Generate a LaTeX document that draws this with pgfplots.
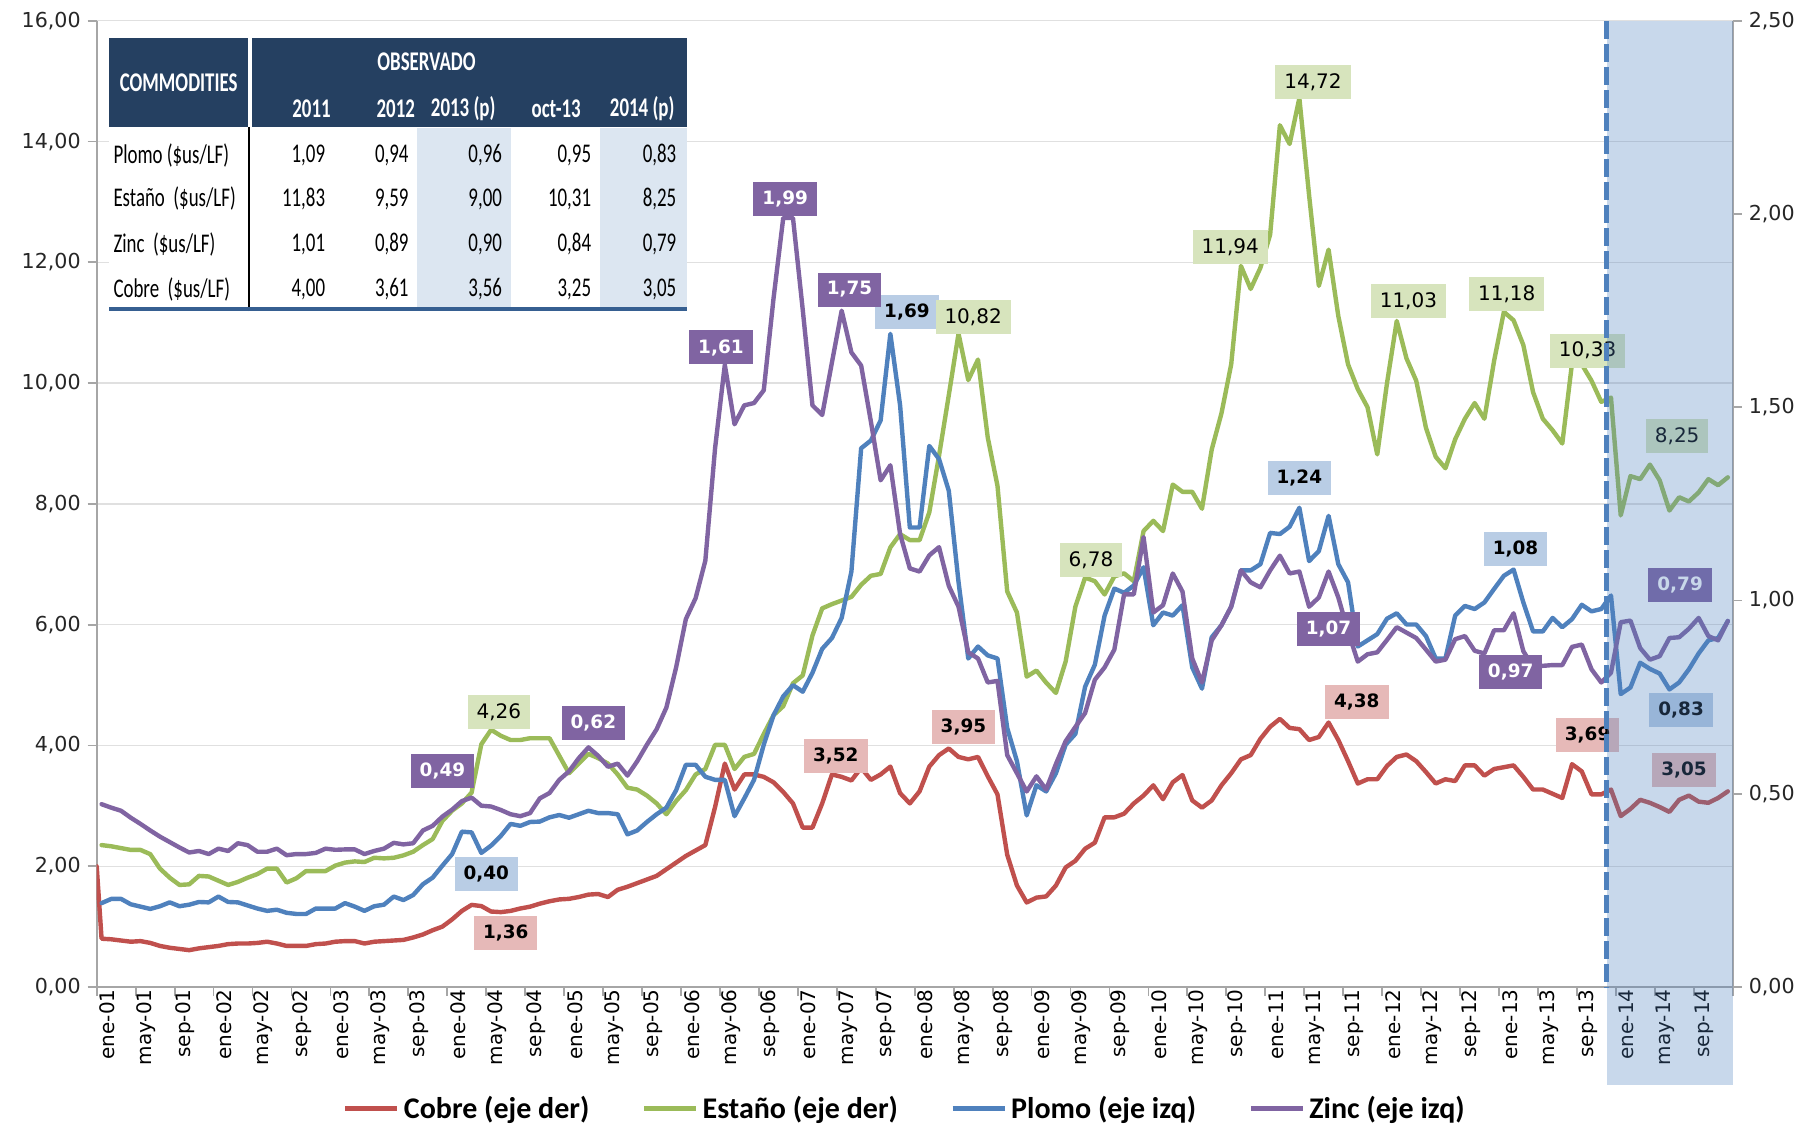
\documentclass[border=0pt]{standalone}
\usepackage{fontspec}
\setmainfont{DejaVu Sans}
\newfontfamily\carlito{Carlito}
\usepackage{graphicx}
\usepackage{pgfplots}
\usepackage{pgfplotstable}
\pgfplotsset{compat=1.18}

\definecolor{cobre}{RGB}{192,80,77}
\definecolor{estano}{RGB}{155,187,89}
\definecolor{plomo}{RGB}{79,129,189}
\definecolor{zinc}{RGB}{128,100,162}
\definecolor{labR}{RGB}{230,185,184}
\definecolor{labG}{RGB}{215,228,189}
\definecolor{labB}{RGB}{185,205,229}
\definecolor{axgray}{RGB}{166,166,166}
\definecolor{gridgray}{RGB}{224,224,224}
\definecolor{hdr}{RGB}{37,64,97}
\definecolor{colsh}{RGB}{220,230,241}
\definecolor{tblline}{RGB}{54,95,145}
\definecolor{projblue}{RGB}{79,129,189}

\pgfplotstableread{
m cobre estano plomo zinc
-0.5 2.00 nan nan nan
0 0.80 2.35 0.217 0.473
1 0.79 2.33 0.228 0.464
2 0.77 2.30 0.228 0.456
3 0.75 2.27 0.214 0.438
4 0.76 2.27 0.208 0.422
5 0.73 2.20 0.202 0.405
6 0.68 1.96 0.209 0.389
7 0.65 1.81 0.219 0.375
8 0.63 1.69 0.209 0.361
9 0.61 1.70 0.213 0.348
10 0.64 1.84 0.220 0.352
11 0.66 1.83 0.219 0.344
12 0.68 1.76 0.234 0.358
13 0.71 1.69 0.220 0.352
14 0.72 1.74 0.219 0.372
15 0.72 1.81 0.211 0.367
16 0.73 1.87 0.203 0.350
17 0.75 1.96 0.197 0.350
18 0.72 1.96 0.200 0.358
19 0.68 1.73 0.192 0.341
20 0.68 1.80 0.189 0.344
21 0.68 1.92 0.189 0.344
22 0.71 1.92 0.203 0.347
23 0.72 1.92 0.203 0.358
24 0.75 2.01 0.203 0.355
25 0.76 2.06 0.217 0.356
26 0.76 2.08 0.208 0.356
27 0.72 2.07 0.197 0.344
28 0.75 2.14 0.209 0.352
29 0.76 2.13 0.213 0.358
30 0.77 2.14 0.234 0.373
31 0.78 2.18 0.225 0.369
32 0.82 2.24 0.238 0.372
33 0.87 2.35 0.266 0.405
34 0.94 2.45 0.283 0.417
35 1.00 2.75 0.314 0.441
36 1.12 2.92 0.344 0.459
37 1.26 3.04 0.402 0.481
38 1.36 3.22 0.400 0.490
39 1.34 4.02 0.347 0.469
40 1.25 4.26 0.366 0.467
41 1.24 4.16 0.391 0.458
42 1.26 4.09 0.422 0.447
43 1.30 4.09 0.417 0.442
44 1.33 4.12 0.427 0.450
45 1.38 4.12 0.428 0.488
46 1.42 4.12 0.439 0.502
47 1.45 3.83 0.445 0.536
48 1.46 3.54 0.438 0.558
49 1.49 3.70 0.447 0.592
50 1.53 3.86 0.456 0.620
51 1.54 3.79 0.450 0.598
52 1.49 3.70 0.450 0.570
53 1.61 3.52 0.447 0.578
54 1.66 3.30 0.395 0.547
55 1.72 3.27 0.405 0.584
56 1.78 3.17 0.427 0.627
57 1.84 3.04 0.447 0.667
58 1.95 2.86 0.464 0.723
59 2.06 3.08 0.509 0.827
60 2.17 3.26 0.575 0.952
61 2.26 3.52 0.575 1.006
62 2.35 3.61 0.544 1.103
63 2.98 4.01 0.536 1.394
64 3.70 4.01 0.536 1.610
65 3.27 3.61 0.442 1.456
66 3.52 3.81 0.488 1.505
67 3.52 3.86 0.536 1.511
68 3.48 4.19 0.627 1.544
69 3.39 4.50 0.703 1.781
70 3.23 4.65 0.752 1.990
71 3.04 5.03 0.781 1.990
72 2.64 5.16 0.764 1.753
73 2.64 5.82 0.813 1.505
74 3.04 6.27 0.875 1.480
75 3.52 6.34 0.903 1.616
76 3.48 6.40 0.955 1.750
77 3.42 6.46 1.075 1.642
78 3.63 6.66 1.394 1.608
79 3.43 6.81 1.414 1.463
80 3.52 6.84 1.466 1.311
81 3.65 7.28 1.690 1.350
82 3.21 7.50 1.505 1.172
83 3.04 7.40 1.189 1.083
84 3.24 7.40 1.189 1.075
85 3.65 7.86 1.400 1.117
86 3.84 8.80 1.366 1.138
87 3.95 9.80 1.284 1.038
88 3.81 10.82 1.048 0.984
89 3.77 10.05 0.850 0.866
90 3.81 10.39 0.881 0.850
91 3.49 9.10 0.858 0.788
92 3.19 8.30 0.850 0.792
93 2.19 6.55 0.670 0.600
94 1.68 6.20 0.584 0.553
95 1.40 5.14 0.444 0.506
96 1.48 5.24 0.522 0.545
97 1.50 5.04 0.506 0.511
98 1.68 4.87 0.553 0.577
99 1.98 5.39 0.627 0.636
100 2.09 6.30 0.655 0.673
101 2.29 6.78 0.777 0.709
102 2.39 6.72 0.834 0.795
103 2.81 6.50 0.961 0.827
104 2.81 6.80 1.031 0.873
105 2.87 6.85 1.020 1.016
106 3.04 6.72 1.039 1.016
107 3.17 7.55 1.086 1.164
108 3.34 7.72 0.936 0.969
109 3.11 7.55 0.969 0.988
110 3.39 8.32 0.961 1.070
111 3.51 8.20 0.988 1.023
112 3.09 8.20 0.827 0.850
113 2.97 7.92 0.772 0.788
114 3.09 8.90 0.905 0.897
115 3.34 9.50 0.936 0.936
116 3.54 10.31 0.984 0.984
117 3.77 11.94 1.078 1.078
118 3.84 11.56 1.078 1.047
119 4.11 11.91 1.094 1.034
120 4.31 12.46 1.175 1.078
121 4.44 14.27 1.172 1.116
122 4.29 13.96 1.191 1.070
123 4.27 14.72 1.240 1.075
124 4.09 13.11 1.102 0.984
125 4.14 11.61 1.128 1.008
126 4.38 12.21 1.219 1.075
127 4.09 11.11 1.094 1.008
128 3.74 10.31 1.047 0.920
129 3.37 9.90 0.881 0.842
130 3.44 9.60 0.897 0.861
131 3.44 8.82 0.913 0.866
132 3.66 10.00 0.953 0.898
133 3.81 11.03 0.967 0.931
134 3.85 10.41 0.938 0.917
135 3.74 10.04 0.938 0.903
136 3.56 9.26 0.908 0.873
137 3.37 8.78 0.850 0.842
138 3.44 8.59 0.850 0.847
139 3.41 9.07 0.961 0.900
140 3.67 9.41 0.986 0.908
141 3.67 9.67 0.978 0.870
142 3.50 9.41 0.995 0.863
143 3.61 10.37 1.030 0.923
144 3.64 11.18 1.064 0.923
145 3.67 11.04 1.080 0.967
146 3.48 10.63 0.995 0.869
147 3.27 9.85 0.920 0.828
148 3.27 9.41 0.920 0.831
149 3.20 9.22 0.955 0.833
150 3.13 9.00 0.931 0.833
151 3.69 10.33 0.952 0.880
152 3.57 10.31 0.989 0.886
153 3.19 10.04 0.972 0.822
154 3.19 9.69 0.978 0.788
155 3.27 9.76 1.013 0.813
156 2.83 7.81 0.758 0.944
157 2.95 8.46 0.775 0.948
158 3.10 8.41 0.839 0.877
159 3.05 8.65 0.823 0.847
160 2.98 8.39 0.811 0.856
161 2.90 7.89 0.770 0.903
162 3.10 8.11 0.788 0.905
163 3.17 8.04 0.822 0.927
164 3.07 8.19 0.863 0.955
165 3.05 8.41 0.897 0.908
166 3.13 8.31 0.903 0.897
167 3.24 8.44 0.947 0.947
}\datos

\newcommand{\tb}[1]{\scalebox{0.7}[1]{#1}}

\tikzset{
  lbl/.style={inner xsep=4.5pt, inner ysep=0pt, minimum height=17pt, anchor=center},
  lR/.style={lbl, fill=labR, text=black, font=\bfseries\fontsize{9.2}{11}\selectfont},
  lG/.style={lbl, fill=labG, text=black, font=\fontsize{10}{12}\selectfont},
  lB/.style={lbl, fill=labB, text=black, font=\bfseries\fontsize{9.2}{11}\selectfont},
  lP/.style={lbl, fill=zinc, text=white, font=\bfseries\fontsize{9.2}{11}\selectfont},
  serie/.style={line width=2.2pt, line join=round, line cap=round},
  tv/.style={inner sep=0pt, anchor=east},
}

\pgfplotsset{
  comun/.style={
    scale only axis, width=818pt, height=483.1pt,
    xmin=-0.5, xmax=167.5,
    axis line style={draw=axgray, line width=0.9pt},
    tick align=outside, major tick length=4.5pt,
    tick style={draw=axgray, line width=0.9pt},
    /pgf/number format/assume math mode=true,
    yticklabel style={font=\fontsize{10.3}{12}\selectfont, text=black!85,
      /pgf/number format/fixed, /pgf/number format/fixed zerofill,
      /pgf/number format/precision=2, /pgf/number format/use comma},
  }
}

\begin{document}
\begin{tikzpicture}
\useasboundingbox (-48.35pt,-69.5pt) rectangle (856.65pt,493.5pt);

% Axis A: left scale (Cobre, Estaño)
\begin{axis}[comun,
  ymin=0, ymax=16,
  axis x line*=bottom, axis y line*=left,
  ytick={0,2,4,6,8,10,12,14,16},
  ymajorgrids, grid style={draw=gridgray, line width=0.7pt},
  xtick={-0.5,3.5,...,167.5}, xticklabels={},
  extra x ticks={0,4,...,164},
  extra x tick labels={ene-01,may-01,sep-01,ene-02,may-02,sep-02,ene-03,may-03,sep-03,ene-04,may-04,sep-04,ene-05,may-05,sep-05,ene-06,may-06,sep-06,ene-07,may-07,sep-07,ene-08,may-08,sep-08,ene-09,may-09,sep-09,ene-10,may-10,sep-10,ene-11,may-11,sep-11,ene-12,may-12,sep-12,ene-13,may-13,sep-13,ene-14,may-14,sep-14},
  extra x tick style={major tick length=0pt},
  xticklabel style={rotate=90, anchor=east, font=\fontsize{10}{12}\selectfont, text=black, inner sep=1pt, yshift=-3pt},
  legend style={at={(0.4945,-0.126)}, anchor=center, draw=none, fill=none,
    legend columns=4, font=\carlito\bfseries\fontsize{15}{17}\selectfont,
    /tikz/every even column/.append style={column sep=24pt}},
  legend image code/.code={\draw[#1, line width=2.6pt] (0pt,0pt) -- (26pt,0pt);},
]
\addlegendimage{cobre}\addlegendentry{Cobre (eje der)}
\addlegendimage{estano}\addlegendentry{Estaño (eje der)}
\addlegendimage{plomo}\addlegendentry{Plomo (eje izq)}
\addlegendimage{zinc}\addlegendentry{Zinc (eje izq)}
\addplot[serie, cobre, forget plot] table[x=m, y=cobre] {\datos};
\addplot[serie, estano, forget plot] table[x=m, y=estano] {\datos};
\end{axis}

% Axis B: right scale (Plomo, Zinc)
\begin{axis}[comun,
  ymin=0, ymax=2.5,
  axis y line*=right, axis x line=none,
  ytick={0,0.5,1,1.5,2,2.5},
  clip=false,
]
\addplot[serie, plomo] table[x=m, y=plomo] {\datos};
\addplot[serie, zinc] table[x=m, y=zinc] {\datos};

% data labels (positions given on the left scale, divided by 6.4)
\node[lR] at (axis cs:41.5,{0.90/6.4}) {1,36};
\node[lR] at (axis cs:75.4,{3.82/6.4}) {3,52};
\node[lR] at (axis cs:88.5,{4.30/6.4}) {3,95};
\node[lR] at (axis cs:128.9,{4.72/6.4}) {4,38};
\node[lR] at (axis cs:152.6,{4.17/6.4}) {3,69};
\node[lR] at (axis cs:162.5,{3.59/6.4}) {3,05};

\node[lB] at (axis cs:39.5,{1.87/6.4}) {0,40};
\node[lB] at (axis cs:82.7,{11.18/6.4}) {1,69};
\node[lB] at (axis cs:123.0,{8.43/6.4}) {1,24};
\node[lB] at (axis cs:145.2,{7.26/6.4}) {1,08};
\node[lB] at (axis cs:162.2,{4.59/6.4}) {0,83};

\node[lG] at (axis cs:40.8,{4.55/6.4}) {4,26};
\node[lG] at (axis cs:89.5,{11.09/6.4}) {10,82};
\node[lG] at (axis cs:101.6,{7.07/6.4}) {6,78};
\node[lG] at (axis cs:115.9,{12.25/6.4}) {11,94};
\node[lG] at (axis cs:124.4,{14.99/6.4}) {14,72};
\node[lG] at (axis cs:134.2,{11.36/6.4}) {11,03};
\node[lG] at (axis cs:144.3,{11.47/6.4}) {11,18};
\node[lG] at (axis cs:152.6,{10.54/6.4}) {10,33};
\node[lG] at (axis cs:161.8,{9.12/6.4}) {8,25};

\node[lP] at (axis cs:35.0,{3.57/6.4}) {0,49};
\node[lP] at (axis cs:50.5,{4.38/6.4}) {0,62};
\node[lP] at (axis cs:63.6,{10.59/6.4}) {1,61};
\node[lP] at (axis cs:70.2,{13.05/6.4}) {1,99};
\node[lP] at (axis cs:76.8,{11.55/6.4}) {1,75};
\node[lP] at (axis cs:126.0,{5.93/6.4}) {1,07};
\node[lP] at (axis cs:144.7,{5.22/6.4}) {0,97};
\node[lP] at (axis cs:162.1,{6.65/6.4}) {0,79};

% projection shading and dashed separator
\fill[fill=projblue, fill opacity=0.31] (axis cs:154.6,2.5) rectangle (axis cs:167.5,{-1.62/6.4});
\draw[draw=plomo, line width=2.4pt, dash pattern=on 9pt off 2.5pt] (axis cs:154.5,2.5) -- (axis cs:154.5,0);
\end{axis}

% Table
\begin{scope}[font=\carlito\fontsize{13.5}{16}\selectfont]
\fill[white] (6.3pt,338pt) rectangle (295.2pt,430pt);
\fill[colsh] (160.3pt,339pt) rectangle (207.2pt,429.5pt);
\fill[colsh] (251.8pt,339pt) rectangle (295.2pt,429.5pt);
\fill[hdr] (6.3pt,430pt) rectangle (75.5pt,474.3pt);
\fill[hdr] (77.5pt,430pt) rectangle (295.2pt,474.3pt);
\draw[black, line width=1.2pt] (76pt,337.9pt) -- (76pt,430pt);
\draw[tblline, line width=2.1pt] (6.3pt,339pt) -- (295.2pt,339pt);

\node[text=white, inner sep=0pt] at (41pt,452pt) {\tb{\bfseries COMMODITIES}};
\node[text=white, inner sep=0pt] at (164.9pt,462.7pt) {\tb{\bfseries OBSERVADO}};
\node[tv, text=white] at (117.2pt,439.2pt) {\tb{\bfseries 2011}};
\node[tv, text=white] at (159.3pt,439.2pt) {\tb{\bfseries 2012}};
\node[tv, text=white] at (199.6pt,439.2pt) {\tb{\bfseries 2013 (p)}};
\node[tv, text=white] at (242.2pt,439.2pt) {\tb{\bfseries oct-13}};
\node[tv, text=white] at (289.1pt,439.2pt) {\tb{\bfseries 2014 (p)}};

\node[inner sep=0pt, anchor=west] at (8.2pt,415.8pt) {\tb{Plomo (\$us/LF)}};
\node[inner sep=0pt, anchor=west] at (8.2pt,394pt) {\tb{Estaño\ \ (\$us/LF)}};
\node[inner sep=0pt, anchor=west] at (8.2pt,371.4pt) {\tb{Zinc\ \ (\$us/LF)}};
\node[inner sep=0pt, anchor=west] at (8.2pt,348.7pt) {\tb{Cobre\ \ (\$us/LF)}};

\node[tv] at (114.4pt,415.8pt) {\tb{1,09}};
\node[tv] at (156.1pt,415.8pt) {\tb{0,94}};
\node[tv] at (202.8pt,415.8pt) {\tb{0,96}};
\node[tv] at (247.4pt,415.8pt) {\tb{0,95}};
\node[tv] at (290pt,415.8pt) {\tb{0,83}};
\node[tv] at (114.4pt,394pt) {\tb{11,83}};
\node[tv] at (156.1pt,394pt) {\tb{9,59}};
\node[tv] at (202.8pt,394pt) {\tb{9,00}};
\node[tv] at (247.4pt,394pt) {\tb{10,31}};
\node[tv] at (290pt,394pt) {\tb{8,25}};
\node[tv] at (114.4pt,371.4pt) {\tb{1,01}};
\node[tv] at (156.1pt,371.4pt) {\tb{0,89}};
\node[tv] at (202.8pt,371.4pt) {\tb{0,90}};
\node[tv] at (247.4pt,371.4pt) {\tb{0,84}};
\node[tv] at (290pt,371.4pt) {\tb{0,79}};
\node[tv] at (114.4pt,348.7pt) {\tb{4,00}};
\node[tv] at (156.1pt,348.7pt) {\tb{3,61}};
\node[tv] at (202.8pt,348.7pt) {\tb{3,56}};
\node[tv] at (247.4pt,348.7pt) {\tb{3,25}};
\node[tv] at (290pt,348.7pt) {\tb{3,05}};
\end{scope}
\end{tikzpicture}
\end{document}
